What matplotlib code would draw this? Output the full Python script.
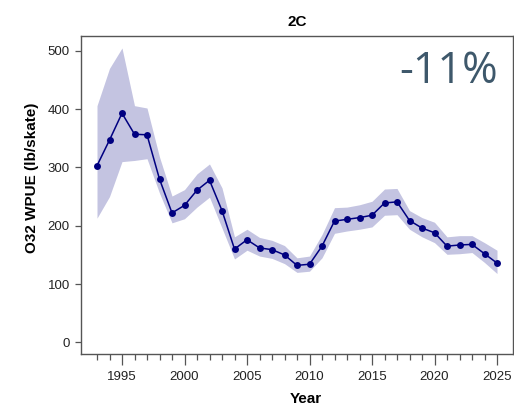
import matplotlib
matplotlib.use("Agg")
import matplotlib.pyplot as plt
from matplotlib.ticker import MultipleLocator, FixedLocator

years = list(range(1993, 2026))
wpue = [303, 347, 393, 357, 356, 280, 222, 235, 261, 278, 226,
        160, 176, 162, 159, 150, 132, 134, 165, 208, 211, 214,
        218, 239, 241, 209, 196, 188, 165, 167, 168, 152, 136]
upper = [406, 470, 505, 406, 402, 318, 251, 262, 289, 306, 265,
         181, 194, 180, 175, 166, 145, 148, 185, 231, 232, 236,
         242, 263, 264, 226, 214, 206, 181, 183, 183, 171, 158]
lower = [213, 250, 310, 312, 315, 256, 205, 212, 232, 249, 196,
         143, 158, 148, 144, 135, 120, 122, 145, 187, 191, 194,
         198, 218, 219, 194, 181, 171, 151, 152, 154, 137, 118]

title = "2C"
change_text = "-11%"
x_label = "Year"
y_label = "O32 WPUE (lb/skate)"

plt.rcParams["font.family"] = ["Liberation Sans", "DejaVu Sans"]

fig = plt.figure(figsize=(5.14, 4.04), dpi=100)
ax = fig.add_axes([81 / 514, 50 / 404, 432 / 514, 318 / 404])

navy = "#000080"
ax.fill_between(years, lower, upper, color=navy, alpha=0.23, linewidth=0)
ax.plot(years, wpue, color=navy, linewidth=1.1, marker="o",
        markersize=5, markeredgewidth=0)

span = years[-1] - years[0]
ax.set_xlim(years[0] - 0.04 * span, years[-1] + 0.04 * span)
ax.set_ylim(-20, 525.5)

ax.xaxis.set_major_locator(FixedLocator(list(range(1995, 2026, 5))))
ax.xaxis.set_minor_locator(FixedLocator(years))
ax.yaxis.set_major_locator(MultipleLocator(100))

for s in ax.spines.values():
    s.set_color("#555555")
    s.set_linewidth(1.0)

ax.tick_params(axis="both", which="major", direction="out", colors="#555555",
               labelcolor="#222222", labelsize=9.5, width=0.9)
ax.tick_params(axis="x", which="major", length=8, pad=4)
ax.tick_params(axis="x", which="minor", length=4.5, width=0.9, colors="#555555")
ax.tick_params(axis="y", which="major", length=4, pad=4)

ax.set_title(title, fontsize=11, fontweight="bold", pad=7.5)
ax.set_xlabel(x_label, fontsize=11, fontweight="bold", labelpad=6)
ax.xaxis.set_label_coords(0.521, -0.118)
ax.set_ylabel(y_label, fontsize=11, fontweight="bold")
ax.yaxis.set_label_coords(-0.097, 0.553)

ax.text(0.965, 0.852, change_text, transform=ax.transAxes, ha="right",
        va="baseline", fontsize=31, color="#3e586b",
        family=["Open Sans", "DejaVu Sans"])

fig.savefig("out.png", dpi=100)
